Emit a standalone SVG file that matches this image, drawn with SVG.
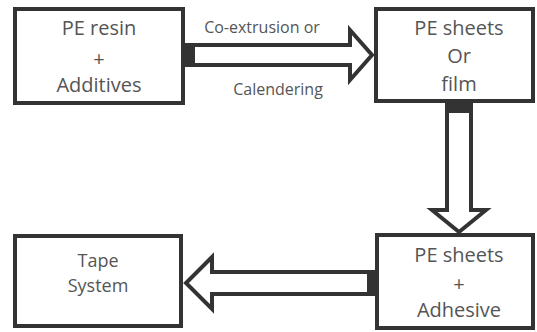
<svg xmlns="http://www.w3.org/2000/svg" width="537" height="332" viewBox="0 0 537 332">
<style>
.box{fill:#fff;stroke:#333;stroke-width:4}
.arr{fill:#fff;stroke:#333;stroke-width:4;stroke-linejoin:miter}
.cap{fill:#333}
text{font-family:"Open Sans","Noto Sans",sans-serif;fill:#555;text-anchor:middle}
.t{font-size:20px}
.s{font-size:18px}
.l{font-size:16px}
</style>
<rect width="537" height="332" fill="#fff"/>
<g id="n1"><rect class="box" x="15" y="9" width="168" height="94"/>
<text class="t" x="99" y="35">PE resin</text><text class="t" x="99" y="66">+</text><text class="t" x="99" y="92">Additives</text></g>
<g id="n2"><rect class="box" x="376" y="9" width="157" height="92"/>
<text class="t" x="459" y="35">PE sheets</text><text class="t" x="459" y="63">Or</text><text class="t" x="459" y="91">film</text></g>
<g id="n3"><rect class="box" x="377" y="235" width="156" height="93"/>
<text class="t" x="459" y="262">PE sheets</text><text class="t" x="459" y="291">+</text><text class="t" x="459" y="317">Adhesive</text></g>
<g id="n4"><rect class="box" x="15" y="236" width="166" height="90"/>
<text class="s" x="98" y="267">Tape</text><text class="s" x="98" y="292">System</text></g>
<g id="connectors">
<polygon class="arr" points="186,45 350,45 350,30 372,55 350,80 350,65 186,65"/>
<rect class="cap" x="185" y="43" width="10" height="24"/>
<text class="l" x="262" y="33">Co-extrusion or</text>
<text class="l" x="278" y="95">Calendering</text>
<polygon class="arr" points="447,104 447,210 432,210 459,232 486,210 471,210 471,104"/>
<rect class="cap" x="445" y="103" width="28" height="10"/>
<polygon class="arr" points="375,272 212,272 212,257 186,283 212,309 212,294 375,294"/>
<rect class="cap" x="367" y="270" width="10" height="26"/>
</g>
</svg>
